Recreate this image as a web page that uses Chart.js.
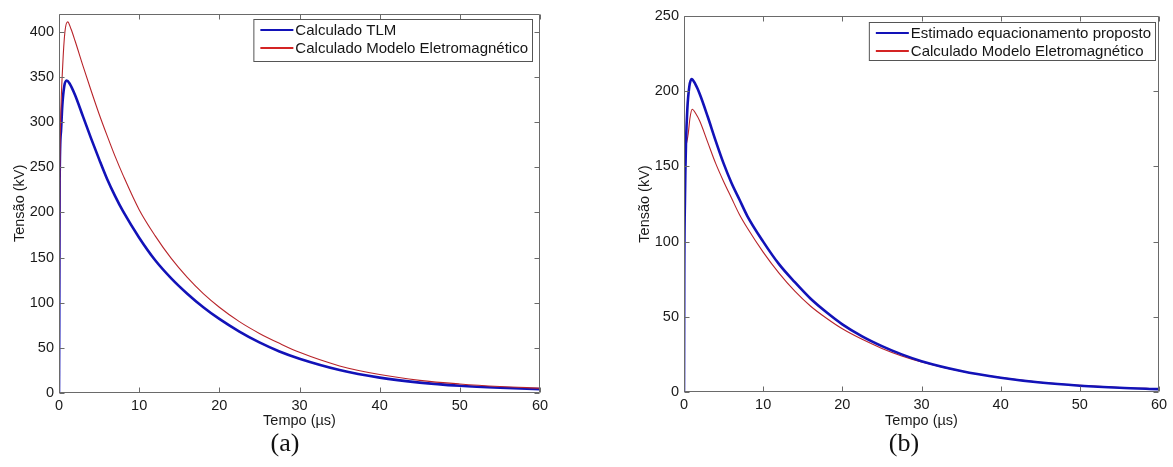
<!DOCTYPE html>
<html>
<head>
<meta charset="utf-8">
<script src="https://cdn.jsdelivr.net/npm/chart.js@4.4.1/dist/chart.umd.min.js"></script>
<style>
  html, body { margin: 0; padding: 0; background: #fff; width: 1173px; height: 467px; overflow: hidden; }
  canvas { position: absolute; top: 0; }
  #chartA { left: 0; }
  #chartB { left: 600px; }
  .caption { position: absolute; top: 428px; font-family: "Liberation Serif", "Times New Roman", serif;
             font-size: 26px; color: #111; transform: translateX(-50%); white-space: nowrap; }
</style>
</head>
<body>
<canvas id="chartA" width="560" height="467"></canvas>
<canvas id="chartB" width="573" height="467"></canvas>
<div class="caption" style="left:285px">(a)</div>
<div class="caption" style="left:904px">(b)</div>

<script>
// ---- (a) Calculado TLM vs. Modelo Eletromagnético ----
const tempoTLM = [0, 0.03, 0.08, 0.25, 0.41, 0.66, 0.95, 1.3, 2, 3, 4, 5, 6, 7, 8, 10, 12, 14, 16, 18, 20, 22.5, 25, 27.5, 30, 35, 40, 45, 50, 55, 60];
const tensaoTLM = [0, 75, 235, 290, 318, 340, 346, 343, 330, 306, 282, 259, 237, 218, 201, 172, 147, 127, 110, 95, 82, 68, 56, 46, 38, 25.5, 17, 11.5, 8, 5.8, 4.3];

const tempoEMa = [0, 0.05, 0.1, 0.2, 0.46, 0.74, 1.08, 1.5, 2, 3, 4, 5, 6, 7, 8, 10, 12, 14, 16, 18, 20, 22.5, 25, 27.5, 30, 35, 40, 45, 50, 55, 60];
const tensaoEMa = [0, 70, 235, 300, 362, 400, 411, 403, 390, 362, 335, 309, 285, 262, 241, 203, 174, 149, 128, 110, 95, 79, 66, 55, 45, 30, 20.5, 14, 10, 7.2, 5.3];

// ---- (b) Estimado equacionamento proposto vs. Modelo Eletromagnético ----
const tempoEst = [0, 0.03, 0.12, 0.25, 0.42, 0.67, 0.96, 1.4, 2, 3, 4, 5, 6, 7, 8, 10, 12, 14, 16, 18, 20, 22.5, 25, 27.5, 30, 35, 40, 45, 50, 55, 60];
const tensaoEst = [0, 74, 128, 165, 188, 203, 208, 205, 198, 183, 167, 152, 139, 128, 117, 100, 85, 73, 62, 53, 45, 37, 30.5, 25, 20.5, 14, 9.5, 6.3, 4.2, 2.8, 1.9];

const tempoEMb = [0, 0.04, 0.3, 0.54, 0.75, 1.04, 1.5, 2, 3, 4, 5, 6, 7, 8, 10, 12, 14, 16, 18, 20, 22.5, 25, 27.5, 30, 35, 40, 45, 50, 55, 60];
const tensaoEMb = [0, 128, 165, 172, 182, 188, 185, 180, 166, 152, 140, 129, 118, 109, 93, 79, 67, 57, 49, 42, 35, 29, 24, 20, 13.8, 9.6, 6.5, 4.4, 3, 2.1];

const xTicks = [0, 10, 20, 30, 40, 50, 60];
const yTicksA = [0, 50, 100, 150, 200, 250, 300, 350, 400];
const yTicksB = [0, 50, 100, 150, 200, 250];

const labelsA = ['Calculado TLM', 'Calculado Modelo Eletromagnético'];
const labelsB = ['Estimado equacionamento proposto', 'Calculado Modelo Eletromagnético'];

const BLUE = '#1212b8';
const RED = '#b8242a';
const AXIS = '#6a6a6a';
const SANS = '"Liberation Sans", Arial, Helvetica, sans-serif';

const pts = (ts, vs) => ts.map((t, i) => ({ x: t, y: vs[i] }));

// Boxed axes with inward ticks on all four sides, plus a framed legend in the top-right corner.
const boxAxes = {
  id: 'boxAxes',
  afterDraw(chart, args, opts) {
    const { ctx, chartArea: a, scales: { x, y } } = chart;
    const L = Math.round(a.left) + 0.5, R = Math.round(a.right) - 0.5;
    const T = Math.round(a.top) + 0.5, B = Math.round(a.bottom) - 0.5;
    const tl = 5;
    ctx.save();
    ctx.strokeStyle = AXIS;
    ctx.lineWidth = 1;
    ctx.beginPath();
    ctx.rect(L, T, R - L, B - T);
    x.ticks.forEach(t => {
      const px = Math.round(x.getPixelForValue(t.value)) + 0.5;
      ctx.moveTo(px, B); ctx.lineTo(px, B - tl);
      ctx.moveTo(px, T); ctx.lineTo(px, T + tl);
    });
    y.ticks.forEach(t => {
      const py = Math.round(y.getPixelForValue(t.value)) + 0.5;
      ctx.moveTo(L, py); ctx.lineTo(L + tl, py);
      ctx.moveTo(R, py); ctx.lineTo(R - tl, py);
    });
    ctx.stroke();

    // legend
    ctx.font = '15px ' + SANS;
    const ds = chart.data.datasets;
    const textW = Math.max(...ds.map(d => ctx.measureText(d.label).width));
    const boxR = Math.round(a.right) - opts.inset;
    const boxL = boxR - (textW + 47);
    const boxT = Math.round(a.top) + opts.top;
    ctx.fillStyle = '#fff';
    ctx.fillRect(boxL, boxT, boxR - boxL, opts.height);
    ctx.strokeStyle = '#555';
    ctx.strokeRect(boxL + 0.5, boxT + 0.5, boxR - boxL - 1, opts.height - 1);
    ds.forEach((d, i) => {
      const ry = boxT + opts.row0 + i * opts.rowGap;
      ctx.strokeStyle = d.legendColor;
      ctx.lineWidth = 2.2;
      ctx.beginPath();
      ctx.moveTo(boxL + 7, ry); ctx.lineTo(boxL + 40, ry);
      ctx.stroke();
      ctx.fillStyle = '#151515';
      ctx.textBaseline = 'middle';
      ctx.textAlign = 'left';
      ctx.fillText(d.label, boxL + 42, ry + 0.5);
    });
    ctx.restore();
  }
};

function makeChart(id, cfg) {
  return new Chart(document.getElementById(id), {
    type: 'line',
    data: {
      datasets: [
        { label: cfg.labels[0], data: pts(cfg.blue[0], cfg.blue[1]), borderColor: BLUE, legendColor: BLUE,
          borderWidth: 2.6, pointRadius: 0, cubicInterpolationMode: 'monotone', order: 1 },
        { label: cfg.labels[1], data: pts(cfg.red[0], cfg.red[1]), borderColor: RED, legendColor: '#d42424',
          borderWidth: 1.1, pointRadius: 0, cubicInterpolationMode: 'monotone', order: cfg.redOrder }
      ]
    },
    options: {
      responsive: false,
      animation: false,
      devicePixelRatio: 1,
      layout: { padding: { top: cfg.top, right: cfg.right, left: 0, bottom: 0 } },
      plugins: {
        legend: { display: false },
        tooltip: { enabled: false },
        boxAxes: cfg.legend
      },
      scales: {
        x: {
          type: 'linear', min: 0, max: 60,
          afterBuildTicks: s => { s.ticks = xTicks.map(v => ({ value: v })); },
          afterFit: s => { s.height = cfg.xh; },
          grid: { display: false, drawTicks: false },
          border: { display: false },
          ticks: { padding: 4, color: '#1a1a1a', font: { family: SANS, size: 14.5 }, maxRotation: 0 },
          title: { display: true, text: 'Tempo (µs)', color: '#1a1a1a', font: { family: SANS, size: 14.5 },
                   padding: { top: 0, bottom: cfg.xTitlePad } }
        },
        y: {
          type: 'linear', min: 0, max: cfg.ymax,
          afterBuildTicks: s => { s.ticks = cfg.yTicks.map(v => ({ value: v })); },
          afterFit: s => { s.width = cfg.yw; },
          grid: { display: false, drawTicks: false },
          border: { display: false },
          ticks: { padding: 5, color: '#1a1a1a', font: { family: SANS, size: 14.5 } },
          title: { display: true, text: 'Tensão (kV)', color: '#1a1a1a', font: { family: SANS, size: 14.5 },
                   padding: { top: cfg.yTitlePad, bottom: 0 } }
        }
      }
    },
    plugins: [boxAxes]
  });
}

makeChart('chartA', {
  labels: labelsA,
  blue: [tempoTLM, tensaoTLM],
  red: [tempoEMa, tensaoEMa],
  redOrder: 0,
  ymax: 420, yTicks: yTicksA,
  top: 13, right: 20, xh: 74, yw: 59,
  xTitlePad: 37, yTitlePad: 11,
  legend: { inset: 7, top: 5, height: 43, row0: 11, rowGap: 18 }
});

makeChart('chartB', {
  labels: labelsB,
  blue: [tempoEst, tensaoEst],
  red: [tempoEMb, tensaoEMb],
  redOrder: 2,
  ymax: 250, yTicks: yTicksB,
  top: 16, right: 14, xh: 75, yw: 84,
  xTitlePad: 37, yTitlePad: 36,
  legend: { inset: 3, top: 6, height: 39, row0: 11, rowGap: 18 }
});
</script>
</body>
</html>
